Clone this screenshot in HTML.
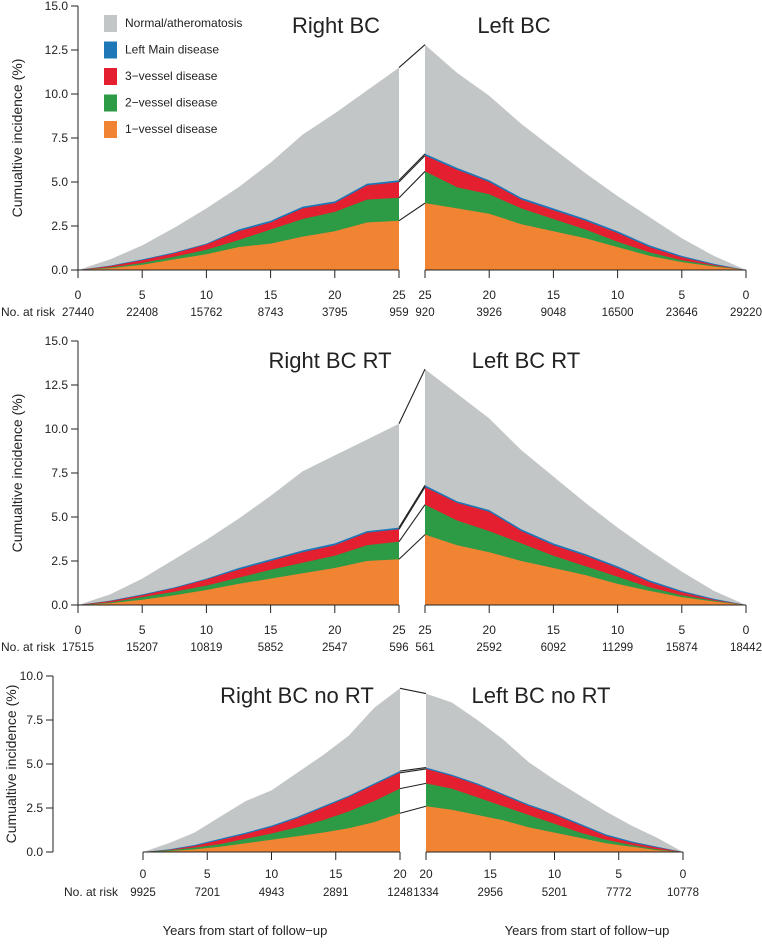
<!DOCTYPE html>
<html><head><meta charset="utf-8">
<style>
body{margin:0;background:#fff;}
svg text{font-family:"Liberation Sans",sans-serif;fill:#222;}
</style></head>
<body>
<svg id="chart" width="762" height="944" viewBox="0 0 762 944" xmlns="http://www.w3.org/2000/svg"></svg>
<script>
// ---- data ----
const p1Years = [0,2.5,5,7.5,10,12.5,15,17.5,20,22.5,25];
const p1RightTotal = [0,0.6,1.4,2.4,3.5,4.7,6.1,7.7,8.9,10.2,11.5];
const p1RightLM    = [0,0.25,0.6,1.0,1.5,2.3,2.8,3.6,3.9,4.9,5.1];
const p1Right3v    = [0,0.22,0.55,0.95,1.45,2.2,2.7,3.5,3.8,4.8,5.0];
const p1Right2v    = [0,0.15,0.4,0.75,1.15,1.7,2.3,2.9,3.3,4.0,4.1];
const p1Right1v    = [0,0.1,0.3,0.6,0.9,1.3,1.5,1.9,2.2,2.7,2.8];
const p1LeftTotal  = [0,0.8,1.8,3.0,4.2,5.5,6.9,8.3,9.9,11.2,12.8];
const p1LeftLM     = [0,0.35,0.8,1.4,2.2,2.9,3.5,4.1,5.1,5.8,6.6];
const p1Left3v     = [0,0.3,0.72,1.3,2.1,2.8,3.4,4.0,5.0,5.7,6.5];
const p1Left2v     = [0,0.25,0.55,1.0,1.6,2.3,2.9,3.5,4.3,4.7,5.6];
const p1Left1v     = [0,0.2,0.45,0.8,1.3,1.8,2.2,2.6,3.2,3.5,3.8];
const p1RiskRight = ["27440","22408","15762","8743","3795","959"];
const p1RiskLeft  = ["29220","23646","16500","9048","3926","920"];

const p2Years = [0,2.5,5,7.5,10,12.5,15,17.5,20,22.5,25];
const p2RightTotal = [0,0.6,1.5,2.6,3.7,4.9,6.2,7.6,8.5,9.4,10.3];
const p2RightLM    = [0,0.25,0.6,1.0,1.5,2.1,2.6,3.1,3.5,4.2,4.4];
const p2Right3v    = [0,0.22,0.55,0.95,1.45,2.0,2.5,3.0,3.4,4.1,4.3];
const p2Right2v    = [0,0.15,0.45,0.75,1.1,1.55,2.0,2.4,2.8,3.4,3.6];
const p2Right1v    = [0,0.1,0.3,0.55,0.85,1.2,1.5,1.8,2.1,2.5,2.6];
const p2LeftTotal  = [0,0.8,1.9,3.1,4.4,5.8,7.3,8.8,10.6,12.0,13.4];
const p2LeftLM     = [0,0.35,0.8,1.4,2.2,2.9,3.5,4.3,5.4,5.9,6.8];
const p2Left3v     = [0,0.3,0.72,1.3,2.1,2.8,3.4,4.2,5.3,5.8,6.7];
const p2Left2v     = [0,0.25,0.55,1.0,1.6,2.2,2.8,3.5,4.2,4.8,5.7];
const p2Left1v     = [0,0.2,0.45,0.8,1.2,1.7,2.1,2.5,3.0,3.4,4.0];
const p2RiskRight = ["17515","15207","10819","5852","2547","596"];
const p2RiskLeft  = ["18442","15874","11299","6092","2592","561"];

const p3Years = [0,2,4,6,8,10,12,14,16,18,20];
const p3RightTotal = [0,0.5,1.1,2.0,2.9,3.5,4.5,5.5,6.6,8.2,9.3];
const p3RightLM    = [0,0.15,0.4,0.75,1.1,1.5,2.0,2.6,3.2,3.9,4.6];
const p3Right3v    = [0,0.12,0.34,0.68,1.02,1.42,1.92,2.52,3.12,3.82,4.5];
const p3Right2v    = [0,0.1,0.25,0.45,0.75,1.05,1.4,1.8,2.3,2.9,3.6];
const p3Right1v    = [0,0.05,0.15,0.3,0.5,0.7,0.9,1.1,1.35,1.7,2.2];
const p3LeftTotal  = [0,0.8,1.5,2.3,3.2,4.1,5.1,6.4,7.5,8.5,9.0];
const p3LeftLM     = [0,0.3,0.6,1.0,1.6,2.2,2.7,3.3,3.9,4.4,4.8];
const p3Left3v     = [0,0.25,0.52,0.92,1.52,2.12,2.62,3.22,3.82,4.32,4.72];
const p3Left2v     = [0,0.15,0.4,0.7,1.1,1.6,2.1,2.6,3.1,3.6,3.9];
const p3Left1v     = [0,0.1,0.3,0.5,0.8,1.1,1.4,1.8,2.1,2.4,2.6];
const p3RiskRight = ["9925","7201","4943","2891","1248"];
const p3RiskLeft  = ["10778","7772","5201","2956","1334"];

const colors = {total:"#c3c6c7", lm:"#1e78b8", v3:"#e41f2f", v2:"#2d9a46", v1:"#f18432"};
const svg = document.getElementById('chart');
const NS = "http://www.w3.org/2000/svg";
function mk(tag, attrs, name, inter){
  const e = document.createElementNS(NS, tag);
  for (const k in attrs) e.setAttribute(k, attrs[k]);
  
  
  svg.appendChild(e); return e;
}
function txt(x,y,s,size,anchor,name,extra){
  const t = mk('text', Object.assign({x:x,y:y,'font-size':size,'text-anchor':anchor}, extra||{}), name, false);
  t.textContent = s; return t;
}

function panel(cfg){
  const yS = v => cfg.y0 - v*cfg.ppu;
  const xR = t => cfg.xL0 + t*cfg.ppy;
  const xL = t => cfg.xR0 - t*cfg.ppy;
  const layers = ['total','lm','v3','v2','v1'];
  const sides = [[xR, cfg.right, 'right-bc'], [xL, cfg.left, 'left-bc']];
  sides.forEach(([xf, d, sn]) => {
    layers.forEach(key => {
      const vals = d[key];
      let p = '';
      cfg.years.forEach((t,i) => { p += (i? 'L':'M') + xf(t).toFixed(1) + ',' + yS(vals[i]).toFixed(1); });
      const last = cfg.years[cfg.years.length-1];
      p += 'L' + xf(last).toFixed(1) + ',' + yS(0) + 'L' + xf(0).toFixed(1) + ',' + yS(0) + 'Z';
      mk('path', {d:p, fill:colors[key]}, cfg.id + '-' + sn + '-area-' + key, false);
    });
  });
  const last = cfg.years[cfg.years.length-1];
  const n = cfg.years.length-1;
  layers.forEach(key => {
    mk('line', {x1:xR(last), y1:yS(cfg.right[key][n]), x2:xL(last), y2:yS(cfg.left[key][n]), stroke:'#222','stroke-width':1.1}, cfg.id + '-connector-' + key, false);
  });
  mk('line', {x1:cfg.ax, y1:yS(0), x2:cfg.ax, y2:yS(cfg.ymax), stroke:'#222','stroke-width':1}, cfg.id + '-y-axis', false);
  cfg.yticks.forEach(v => {
    mk('line', {x1:cfg.ax-7, y1:yS(v), x2:cfg.ax, y2:yS(v), stroke:'#222'}, cfg.id + '-y-tick', false);
    txt(cfg.ax-10, yS(v)+4, v.toFixed(1), 12, 'end', cfg.id + '-y-tick-label');
  });
  const yc = (yS(0)+yS(cfg.ymax))/2;
  txt(cfg.titleX, yc, 'Cumualtive incidence (%)', 14, 'middle', cfg.id + '-y-axis-title', {transform:'rotate(-90 ' + cfg.titleX + ' ' + yc + ')'});
  [[xR,'right-bc'],[xL,'left-bc']].forEach(([xf,sn]) => {
    mk('line', {x1:xf(0), y1:yS(0), x2:xf(last), y2:yS(0), stroke:'#222'}, cfg.id + '-' + sn + '-x-axis', false);
    cfg.xticks.forEach(t => {
      mk('line', {x1:xf(t), y1:yS(0), x2:xf(t), y2:yS(0)+8, stroke:'#222'}, cfg.id + '-' + sn + '-x-tick', false);
      txt(xf(t), cfg.labY, String(t), 12, 'middle', cfg.id + '-' + sn + '-x-tick-label');
    });
  });
  txt(cfg.riskX, cfg.riskY, 'No. at risk', 12, 'start', cfg.id + '-no-at-risk-label');
  cfg.xticks.forEach((t,i) => {
    txt(xR(t), cfg.riskY, cfg.riskRight[i], 11.5, 'middle', cfg.id + '-right-risk-value');
    txt(xL(t), cfg.riskY, cfg.riskLeft[i], 11.5, 'middle', cfg.id + '-left-risk-value');
  });
  txt(cfg.t1x, cfg.ty, cfg.t1, 22, 'middle', cfg.id + '-right-title');
  txt(cfg.t2x, cfg.ty, cfg.t2, 22, 'middle', cfg.id + '-left-title');
}

panel({id:'panel-all', years:p1Years, y0:270, ppu:17.6, ymax:15, yticks:[0,2.5,5,7.5,10,12.5,15],
  xL0:78, xR0:746, ppy:12.84, ax:78, titleX:22, xticks:[0,5,10,15,20,25], labY:299, riskY:316, riskX:1,
  right:{total:p1RightTotal,lm:p1RightLM,v3:p1Right3v,v2:p1Right2v,v1:p1Right1v},
  left:{total:p1LeftTotal,lm:p1LeftLM,v3:p1Left3v,v2:p1Left2v,v1:p1Left1v},
  riskRight:p1RiskRight, riskLeft:p1RiskLeft, t1:'Right BC', t2:'Left BC', t1x:336, t2x:514, ty:33});
panel({id:'panel-rt', years:p2Years, y0:605, ppu:17.6, ymax:15, yticks:[0,2.5,5,7.5,10,12.5,15],
  xL0:78, xR0:746, ppy:12.84, ax:78, titleX:22, xticks:[0,5,10,15,20,25], labY:634, riskY:651, riskX:1,
  right:{total:p2RightTotal,lm:p2RightLM,v3:p2Right3v,v2:p2Right2v,v1:p2Right1v},
  left:{total:p2LeftTotal,lm:p2LeftLM,v3:p2Left3v,v2:p2Left2v,v1:p2Left1v},
  riskRight:p2RiskRight, riskLeft:p2RiskLeft, t1:'Right BC RT', t2:'Left BC RT', t1x:330, t2x:526, ty:368});
panel({id:'panel-no-rt', years:p3Years, y0:852, ppu:17.6, ymax:10, yticks:[0,2.5,5,7.5,10],
  xL0:143, xR0:683, ppy:12.85, ax:53, titleX:16, xticks:[0,5,10,15,20], labY:878, riskY:896, riskX:64,
  right:{total:p3RightTotal,lm:p3RightLM,v3:p3Right3v,v2:p3Right2v,v1:p3Right1v},
  left:{total:p3LeftTotal,lm:p3LeftLM,v3:p3Left3v,v2:p3Left2v,v1:p3Left1v},
  riskRight:p3RiskRight, riskLeft:p3RiskLeft, t1:'Right BC no RT', t2:'Left BC no RT', t1x:297, t2x:541, ty:703});

txt(245, 935, 'Years from start of follow\u2212up', 13, 'middle', 'x-axis-title-right-bc');
txt(587, 935, 'Years from start of follow\u2212up', 13, 'middle', 'x-axis-title-left-bc');

const legLabels = ['Normal/atheromatosis','Left Main disease','3\u2212vessel disease','2\u2212vessel disease','1\u2212vessel disease'];
const legKeys = ['total','lm','v3','v2','v1'];
legLabels.forEach((s,i) => {
  const y = 15 + i*26.5;
  const r = document.createElementNS(NS,'rect');
  r.setAttribute('x',104); r.setAttribute('y',y); r.setAttribute('width',13); r.setAttribute('height',17);
  r.setAttribute('fill',colors[legKeys[i]]);
  
  
  svg.appendChild(r);
  const t = document.createElementNS(NS,'text');
  t.setAttribute('x',125); t.setAttribute('y',y+12); t.setAttribute('font-size',12);
  t.textContent = s;
  
  
  svg.appendChild(t);
});
</script>
</body></html>
